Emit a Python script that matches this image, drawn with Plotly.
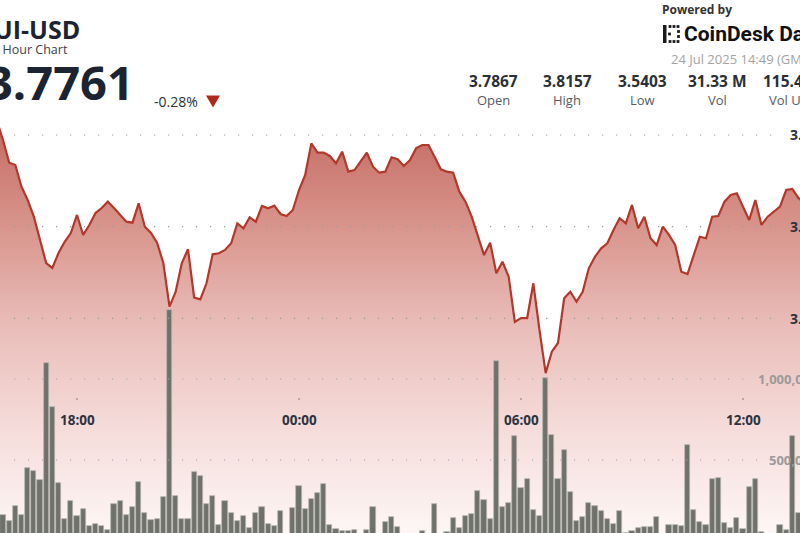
import plotly.graph_objects as go
import pandas as pd

# ---------------- data ----------------
start_time = "2025-07-23 15:50"
n_points = 132
times = pd.date_range(start_time, periods=n_points, freq="10min")

prices = [
    3.8157, 3.7945, 3.7698, 3.7673, 3.7436, 3.7291, 3.7109, 3.6855, 3.6604, 3.6550,
    3.6713, 3.6836, 3.6931, 3.7128, 3.6910, 3.7019, 3.7149, 3.7204, 3.7273, 3.7204,
    3.7128, 3.7055, 3.7044, 3.7255, 3.7000, 3.6931, 3.6822, 3.6604, 3.6128, 3.6291,
    3.6604, 3.6754, 3.6226, 3.6208, 3.6383, 3.6699, 3.6710, 3.6746, 3.6819, 3.7037,
    3.6983, 3.7103, 3.7055, 3.7226, 3.7201, 3.7229, 3.7139, 3.7117, 3.7182, 3.7400,
    3.7564, 3.7909, 3.7807, 3.7807, 3.7771, 3.7691, 3.7818, 3.7600, 3.7618, 3.7709,
    3.7807, 3.7654, 3.7589, 3.7600, 3.7757, 3.7735, 3.7662, 3.7727, 3.7858, 3.7891,
    3.7891, 3.7760, 3.7626, 3.7600, 3.7589, 3.7382, 3.7273, 3.7109, 3.6910, 3.6691,
    3.6826, 3.6492, 3.6618, 3.6455, 3.5961, 3.6004, 3.6004, 3.6383, 3.5873, 3.5403,
    3.5637, 3.5732, 3.6219, 3.6291, 3.6182, 3.6291, 3.6546, 3.6673, 3.6764, 3.6819,
    3.6964, 3.7092, 3.7037, 3.7237, 3.6983, 3.7109, 3.6874, 3.6800, 3.7000, 3.6910,
    3.6800, 3.6509, 3.6484, 3.6691, 3.6891, 3.6874, 3.7109, 3.7117, 3.7273, 3.7346,
    3.7364, 3.7218, 3.7073, 3.7291, 3.7019, 3.7109, 3.7164, 3.7218, 3.7400, 3.7411,
    3.7313, 3.7258,
]

volumes = [
    175000, 160000, 123000, 218000, 160000, 452000, 432000, 377000, 1097000, 825000,
    356000, 134000, 249000, 156000, 196000, 94000, 103000, 93000, 68000, 227000,
    249000, 160000, 212000, 362000, 171000, 130000, 136000, 273000, 1426000, 278000,
    136000, 136000, 428000, 401000, 227000, 278000, 99000, 249000, 171000, 125000,
    154000, 82000, 171000, 212000, 105000, 93000, 187000, 0, 202000, 341000,
    196000, 259000, 294000, 352000, 99000, 72000, 62000, 62000, 68000, 0,
    68000, 212000, 0, 119000, 146000, 85000, 0, 0, 0, 62000,
    0, 227000, 30000, 57000, 144000, 78000, 156000, 165000, 311000, 253000,
    134000, 1111000, 212000, 233000, 650000, 329000, 385000, 191000, 156000, 1004000,
    654000, 383000, 562000, 300000, 123000, 146000, 233000, 216000, 185000, 134000,
    103000, 185000, 50000, 62000, 82000, 88000, 88000, 150000, 0, 99000,
    99000, 93000, 593000, 191000, 115000, 99000, 381000, 387000, 113000, 78000,
    140000, 72000, 335000, 381000, 57000, 0, 0, 99000, 68000, 648000,
    175000, 202000,
]

price_ticks = [3.80, 3.70, 3.60]
price_tick_labels = ["3.80", "3.70", "3.60"]
volume_ticks = [1000000, 500000]
volume_tick_labels = ["1,000,000", "500,000"]
time_ticks = ["2025-07-23 18:00", "2025-07-24 00:00", "2025-07-24 06:00", "2025-07-24 12:00"]
time_tick_labels = ["18:00", "00:00", "06:00", "12:00"]

stat_values = ["3.7867", "3.8157", "3.5403", "31.33 M", "115.4 M"]
stat_labels = ["Open", "High", "Low", "Vol", "Vol USD"]

# ---------------- figure ----------------
W, H = 800, 533


def py(y):
    return 1 - y / H


def px(x):
    return x / W


fig = go.Figure()

fig.add_trace(go.Scatter(
    x=times, y=prices, mode="lines",
    line=dict(color="#b3382c", width=2.2),
    fill="tozeroy",
    fillgradient=dict(
        type="vertical",
        start=3.366, stop=3.82,
        colorscale=[[0, "#fdf6f5"], [0.25, "#f5dcda"], [0.5, "#e9bcb8"],
                    [0.72, "#d9978f"], [1, "#c3685f"]],
    ),
    yaxis="y", hoverinfo="skip", showlegend=False,
))

fig.add_trace(go.Bar(
    x=times, y=volumes, width=500000,
    marker=dict(color="#6f726b", line=dict(color="#b4b5b0", width=0.7)),
    yaxis="y2", hoverinfo="skip", showlegend=False,
))

x_left = (pd.Timestamp("2025-07-23 18:00") - pd.Timedelta(hours=77 / 37)).round("s")
x_right = (pd.Timestamp("2025-07-24 12:00") + pd.Timedelta(hours=57 / 37)).round("s")

shapes = []
# price grid (dotted)
for v in price_ticks:
    shapes.append(dict(type="line", xref="paper", yref="y", x0=px(14), x1=px(779), y0=v, y1=v,
                       line=dict(color="#9b9b9b", width=1.2, dash="1.2px,12.8px"), layer="above"))
for v, xe in zip(volume_ticks, [751, 765]):
    shapes.append(dict(type="line", xref="paper", yref="y2", x0=px(14), x1=px(xe), y0=v, y1=v,
                       line=dict(color="#a5a5a5", width=1.2, dash="1.2px,12.8px"), layer="above"))
# small tick marks above time labels
for t in time_ticks:
    tt = pd.Timestamp(t)
    shapes.append(dict(type="line", xref="x", yref="paper",
                       x0=tt - pd.Timedelta(seconds=70), x1=tt + pd.Timedelta(seconds=70),
                       y0=py(399), y1=py(399), line=dict(color="#555", width=1.2), layer="above"))

# down triangle next to change
shapes.append(dict(type="path", xref="paper", yref="paper",
                   path="M %f,%f L %f,%f L %f,%f Z" % (px(206), py(95.5), px(220), py(95.5), px(213), py(107.5)),
                   fillcolor="#b0281c", line=dict(width=0)))

# CoinDesk logo icon (approximation)
ic = "#1a1a1a"
shapes.append(dict(type="rect", xref="paper", yref="paper", x0=px(663), x1=px(666.5), y0=py(43), y1=py(25),
                   fillcolor=ic, line=dict(width=0)))
for (cx, cy) in [(670, 26.5), (674, 26.5), (670, 41.5), (674, 41.5), (678, 26.5), (678, 41.5),
                 (678.5, 31.5), (678.5, 36.5), (669.5, 34)]:
    shapes.append(dict(type="rect", xref="paper", yref="paper", x0=px(cx - 1.4), x1=px(cx + 1.4),
                       y0=py(cy + 1.4), y1=py(cy - 1.4), fillcolor=ic, line=dict(width=0)))

annotations = []


def ann(text, x, y, size, color, bold=False, xanchor="left", xref="paper", yref="paper", family="Open Sans"):
    annotations.append(dict(
        text=("<b>%s</b>" % text) if bold else text,
        x=x, y=y, xref=xref, yref=yref, xanchor=xanchor, yanchor="middle",
        showarrow=False, font=dict(family=family, size=size, color=color),
        borderpad=0, borderwidth=0,
    ))


ann("SUI-USD", px(-20), py(29), 25, "#1c2331", bold=True)
ann("24 Hour Chart", px(-15.5), py(49), 12.5, "#3d434d")
ann("3.7761", px(-14), py(82), 47, "#1c2331", bold=True)
ann("-0.28%", px(154), py(101), 14, "#2a2f38")

ann("Powered by", px(662), py(9), 12, "#333333", bold=True)
ann("CoinDesk Data", px(684), py(34), 21, "#111111", bold=True, family="Roboto")
ann("24 Jul 2025 14:49 (GMT)", px(671), py(59), 13, "#a3a3a3")

stat_centers = [493, 567, 642, 717]
for val, lab, cx in zip(stat_values[:4], stat_labels[:4], stat_centers):
    ann(val, px(cx), py(81), 15.5, "#2a2f38", bold=True, xanchor="center")
    ann(lab, px(cx), py(100), 13, "#555b63", xanchor="center")
ann(stat_values[4], px(763), py(81), 15.5, "#2a2f38", bold=True)
ann(stat_labels[4], px(769), py(100), 13, "#555b63")

for v, lab in zip(price_ticks, price_tick_labels):
    ann(lab, px(818), v, 14, "#2b3340", bold=True, xanchor="right", yref="y")
for v, lab in zip(volume_ticks, volume_tick_labels):
    ann(lab, px(817), v, 13, "#9a9a9a", bold=True, xanchor="right", yref="y2")
for t, lab in zip(time_ticks, time_tick_labels):
    ann(lab, t, py(420), 13.5, "#2b3340", bold=True, xanchor="center", xref="x")

fig.update_layout(
    width=W, height=H,
    margin=dict(l=0, r=0, t=0, b=0),
    paper_bgcolor="white", plot_bgcolor="white",
    bargap=0,
    xaxis=dict(range=[x_left, x_right], visible=False, showgrid=False, fixedrange=True),
    yaxis=dict(range=[3.3660, 3.9472], visible=False, showgrid=False, fixedrange=True),
    yaxis2=dict(range=[49383, 3339507], overlaying="y", visible=False, showgrid=False, fixedrange=True),
    shapes=shapes,
    annotations=annotations,
    showlegend=False,
)

fig.write_html(
    "out.html",
    config={"displayModeBar": False},
    post_script="document.body.style.margin='0';document.body.style.overflow='hidden';",
)
